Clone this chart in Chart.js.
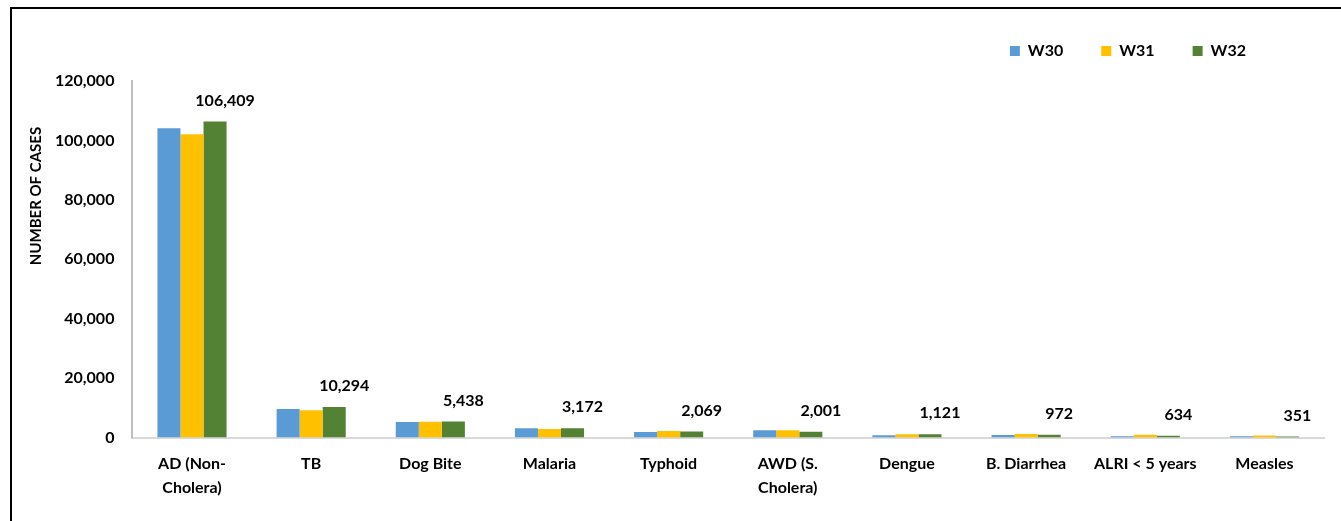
<!DOCTYPE html>
<html>
<head>
<meta charset="utf-8">
<script src="https://cdn.jsdelivr.net/npm/chart.js@4.4.1/dist/chart.umd.min.js"></script>
<style>
  html, body { margin: 0; padding: 0; background: #fff; overflow: hidden; }
  #frame { position: absolute; left: 10px; top: 7px; width: 1400px; height: 600px; border: 2px solid #000; }
  #wrap { position: absolute; left: 0; top: 0; width: 1341px; height: 521px; }
</style>
</head>
<body>
<div id="frame"></div>
<div id="wrap"><canvas id="casesChart" width="1341" height="521"></canvas></div>
<script>
// categories and weekly case counts
const categories = [
  ['AD (Non-', 'Cholera)'], 'TB', 'Dog Bite', 'Malaria', 'Typhoid',
  ['AWD (S.', 'Cholera)'], 'Dengue', 'B. Diarrhea', 'ALRI < 5 years', 'Measles'
]
const w30 = [104100, 9600, 5240, 3130, 1880, 2460, 780, 900, 420, 450]
const w31 = [102080, 9180, 5350, 2900, 2220, 2460, 1100, 1250, 950, 700]
const w32 = [106409, 10294, 5438, 3172, 2069, 2001, 1121, 972, 634, 351]
const yTicks = [0, 20000, 40000, 60000, 80000, 100000, 120000]

const FONT = 'Lato, "Open Sans", sans-serif'
const Chart = window.Chart

// value labels over the W32 bars
const valueLabels = {
  id: 'valueLabels',
  afterDatasetsDraw (chart) {
    const ctx = chart.ctx
    const meta = chart.getDatasetMeta(2)
    ctx.save()
    ctx.font = `bold 16px ${FONT}`
    ctx.fillStyle = '#000'
    ctx.textAlign = 'center'
    ctx.textBaseline = 'middle'
    meta.data.forEach((bar, i) => {
      ctx.fillText(w32[i].toLocaleString('en-US'), bar.x + 10, bar.y - 21)
    })
    ctx.restore()
  }
}

// y axis title sits above the middle of the axis, like the original
const yTitle = {
  id: 'yTitle',
  afterDraw (chart) {
    const ctx = chart.ctx
    ctx.save()
    ctx.translate(36, chart.chartArea.top + 115)
    ctx.rotate(-Math.PI / 2)
    ctx.font = `bold 15px ${FONT}`
    ctx.fillStyle = '#000'
    ctx.textAlign = 'center'
    ctx.textBaseline = 'middle'
    ctx.fillText('NUMBER OF CASES', 0, 0)
    ctx.restore()
  }
}

// pull the legend in from the right edge
const legendShift = {
  id: 'legendShift',
  afterLayout (chart) {
    const lg = chart.legend
    lg.left -= 40
    lg.right -= 40
    lg.top -= 12
    lg.bottom -= 12
  }
}

window.addEventListener('DOMContentLoaded', () => {
  new Chart(document.getElementById('casesChart'), {
    type: 'bar',
    data: {
      labels: categories,
      datasets: [
        { label: 'W30', data: w30, backgroundColor: '#5B9BD5' },
        { label: 'W31', data: w31, backgroundColor: '#FFC000' },
        { label: 'W32', data: w32, backgroundColor: '#548235' }
      ]
    },
    options: {
      responsive: false,
      animation: false,
      events: [],
      barPercentage: 1,
      categoryPercentage: 0.58,
      layout: { padding: { left: 37, right: 17, top: 17, bottom: 7 } },
      plugins: {
        legend: {
          position: 'top',
          align: 'end',
          labels: {
            boxWidth: 10,
            boxHeight: 10,
            padding: 38,
            color: '#000',
            font: { family: FONT, size: 16, weight: 'bold' }
          }
        },
        tooltip: { enabled: false }
      },
      scales: {
        x: {
          z: 1,
          grid: { display: false, drawTicks: false },
          border: { color: '#D9D9D9', width: 2 },
          ticks: {
            color: '#000',
            padding: 15,
            maxRotation: 0,
            autoSkip: false,
            font: { family: FONT, size: 16, weight: 'bold', lineHeight: 1.45 }
          }
        },
        y: {
          min: 0,
          max: 120000,
          afterBuildTicks (scale) {
            scale.ticks = yTicks.map(v => ({ value: v }))
          },
          grid: { display: false, drawTicks: false },
          border: { color: '#BFBFBF', width: 2 },
          ticks: {
            color: '#000',
            padding: 18,
            font: { family: FONT, size: 16, weight: 'bold' },
            callback: v => v.toLocaleString('en-US')
          }
        }
      }
    },
    plugins: [valueLabels, yTitle, legendShift]
  })
})
</script>
</body>
</html>
